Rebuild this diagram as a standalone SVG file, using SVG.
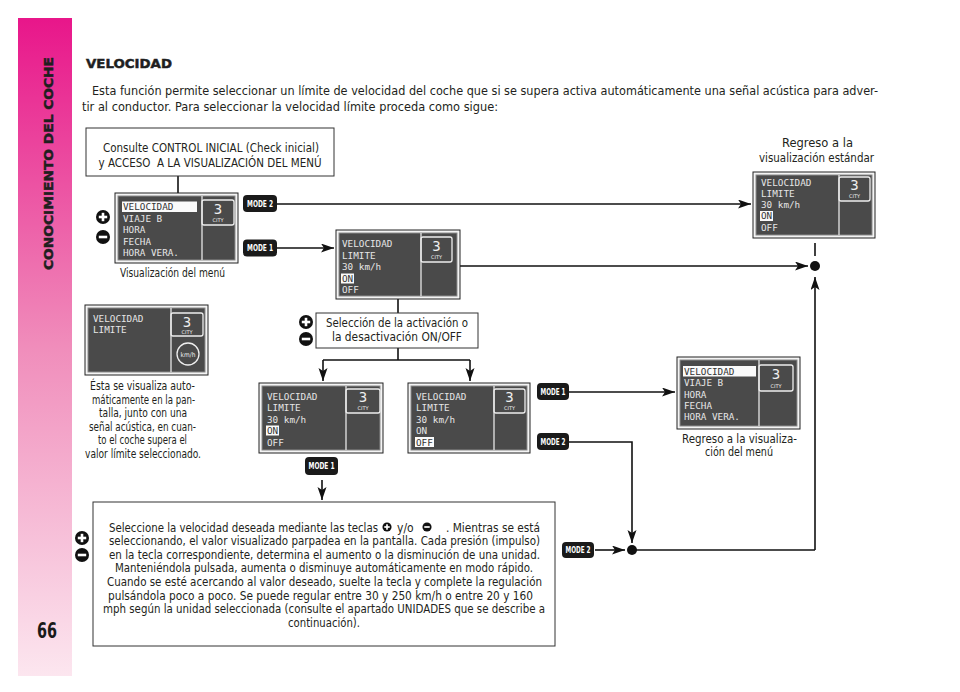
<svg xmlns="http://www.w3.org/2000/svg" width="960" height="692" viewBox="0 0 960 692">
<defs>
<linearGradient id="bar" x1="0" y1="0" x2="0" y2="1">
<stop offset="0" stop-color="#e8168a"/>
<stop offset="0.5" stop-color="#f08dbb"/>
<stop offset="1" stop-color="#fce6ef"/>
</linearGradient>
<marker id="arr" markerUnits="userSpaceOnUse" markerWidth="14" markerHeight="10" refX="13" refY="4.5" orient="auto"><path d="M0,0 L13,4.5 L0,9 L3,4.5 z" fill="#111"/></marker>
<g id="plus"><circle r="7" fill="#111"/><rect x="-4.2" y="-1.3" width="8.4" height="2.6" fill="#fff"/><rect x="-1.3" y="-4.2" width="2.6" height="8.4" fill="#fff"/></g>
<g id="minus"><circle r="7" fill="#111"/><rect x="-4.2" y="-1.3" width="8.4" height="2.6" fill="#fff"/></g>
</defs>
<style>
.t{font-family:"Liberation Sans Narrow","DejaVu Sans Condensed","DejaVu Sans",sans-serif;font-stretch:condensed;fill:#231f20;font-size:12.5px}
.c{text-anchor:middle}
.frame{fill:#f4f4f4;stroke:#222;stroke-width:1}
.scr{fill:#4a4a4a;stroke:#8a8a8a;stroke-width:1}
.div{stroke:#e6e6e6;stroke-width:1.3}
.city{fill:none;stroke:#eee;stroke-width:1.3}
.d{font-family:"DejaVu Sans Mono","Liberation Mono",monospace;font-size:9.3px;fill:#e6e6e6}
.dh{fill:#fafafa}
.dk{fill:#333}
.n3{font-family:"DejaVu Sans Mono",monospace;font-size:14px;fill:#eee;text-anchor:middle}
.cy{font-family:"DejaVu Sans",sans-serif;font-size:5px;fill:#eee;text-anchor:middle}
.badge{fill:#1a1a1a}
.bt{font-family:"DejaVu Sans Condensed","DejaVu Sans",sans-serif;font-stretch:condensed;font-weight:bold;font-size:8.5px;fill:#fff;text-anchor:middle}
.box{fill:#fff;stroke:#333;stroke-width:1}
.ln{fill:none;stroke:#111;stroke-width:1.6}
.ar{marker-end:url(#arr)}
.heavy{font-family:"DejaVu Sans",sans-serif;font-weight:bold;fill:#1f1f1f;stroke:#1f1f1f;stroke-width:0.5}
</style>
<rect width="960" height="692" fill="#fff"/>

<g id="sidebar">
<rect x="18" y="18" width="54" height="658" fill="url(#bar)"/>
<text class="heavy" transform="translate(53,270) rotate(-90)" x="0" y="0" textLength="213" lengthAdjust="spacingAndGlyphs" style="font-size:13px">CONOCIMIENTO DEL COCHE</text>
<text x="47" y="638" class="c" textLength="20" lengthAdjust="spacingAndGlyphs" style="font-family:'DejaVu Sans Condensed','DejaVu Sans',sans-serif;font-stretch:condensed;font-weight:bold;font-size:21px;fill:#1a1a1a">66</text>
</g>

<g id="header">
<text class="heavy" x="86" y="68" textLength="86" lengthAdjust="spacingAndGlyphs" style="font-size:13px">VELOCIDAD</text>
<text class="t" x="92" y="94.5" style="font-size:13px" textLength="786" lengthAdjust="spacingAndGlyphs">Esta función permite seleccionar un límite de velocidad del coche que si se supera activa automáticamente una señal acústica para adver-</text>
<text class="t" x="82" y="110.5" style="font-size:13px" textLength="416" lengthAdjust="spacingAndGlyphs">tir al conductor. Para seleccionar la velocidad límite proceda como sigue:</text>
</g>

<g id="connectors">
<path class="ln" d="M178,176 V193"/>
<path class="ln ar" d="M277,204 H751"/>
<path class="ln ar" d="M277,248 H334"/>
<path class="ln ar" d="M460,266 H808"/>
<path class="ln" d="M815,243 V256"/>
<circle cx="815" cy="266" r="5" fill="#111"/>
<path class="ln ar" d="M815,550 V277"/>
<path class="ln" d="M632,550 H815"/>
<circle cx="632" cy="550" r="5" fill="#111"/>
<path class="ln ar" d="M595,550 H625"/>
<path class="ln ar" d="M569,442 H632 V543"/>
<path class="ln ar" d="M569,392 H675"/>
<path class="ln" d="M398,299 V313"/>
<path class="ln" d="M398,348 V360"/>
<path class="ln" d="M323,360 H470"/>
<path class="ln ar" d="M323,360 V381"/>
<path class="ln ar" d="M470,360 V381"/>
<path class="ln ar" d="M322,480 V500"/>
</g>

<g id="box-consulte">
<rect class="box" x="86" y="128" width="248" height="48"/>
<text class="t c" x="211" y="152" textLength="216" lengthAdjust="spacingAndGlyphs">Consulte CONTROL INICIAL (Check inicial)</text>
<text class="t c" x="210" y="167" textLength="223" lengthAdjust="spacingAndGlyphs">y ACCESO&#160; A LA VISUALIZACIÓN DEL MENÚ</text>
</g>

<g id="disp-menu">
<rect class="frame" x="115" y="193" width="123" height="70"/>
<rect class="scr" x="118" y="196" width="117" height="64"/>
<line class="div" x1="202" y1="196" x2="202" y2="260"/>
<rect class="city" x="202" y="200" width="32" height="25" rx="2"/>
<text class="n3" x="218" y="214">3</text>
<text class="cy" x="218" y="222">CITY</text>
<rect class="dh" x="122" y="201.5" width="75" height="10.5"/>
<text class="d dk" x="123" y="210">VELOCIDAD</text>
<text class="d" x="123" y="221.5">VIAJE B</text>
<text class="d" x="123" y="233">HORA</text>
<text class="d" x="123" y="244.5">FECHA</text>
<text class="d" x="123" y="256">HORA VERA.</text>
<use href="#plus" x="103" y="217"/>
<use href="#minus" x="103" y="237"/>
<text class="t c" x="172.5" y="277" textLength="105" lengthAdjust="spacingAndGlyphs">Visualización del menú</text>
</g>

<g id="mode2-top"><rect class="badge" x="243" y="195" width="34" height="17" rx="4"/><text class="bt" x="260" y="206.5" textLength="26" lengthAdjust="spacingAndGlyphs">MODE 2</text></g>
<g id="mode1-top"><rect class="badge" x="243" y="239.5" width="34" height="17" rx="4"/><text class="bt" x="260" y="251" textLength="26" lengthAdjust="spacingAndGlyphs">MODE 1</text></g>

<g id="disp-limite">
<rect class="frame" x="336" y="230" width="124" height="69"/>
<rect class="scr" x="339" y="233" width="118" height="63"/>
<line class="div" x1="421" y1="233" x2="421" y2="296"/>
<rect class="city" x="421" y="237" width="31" height="25" rx="2"/>
<text class="n3" x="436.5" y="251">3</text>
<text class="cy" x="436.5" y="259">CITY</text>
<text class="d" x="342" y="247">VELOCIDAD</text>
<text class="d" x="342" y="258.5">LIMITE</text>
<text class="d" x="342" y="270">30 km/h</text>
<rect class="dh" x="341" y="273.5" width="13" height="10"/>
<text class="d dk" x="342" y="281.5">ON</text>
<text class="d" x="342" y="293">OFF</text>
</g>

<g id="disp-estandar">
<text class="t c" x="817.5" y="147" textLength="71" lengthAdjust="spacingAndGlyphs">Regreso a la</text>
<text class="t c" x="816.5" y="162" textLength="115" lengthAdjust="spacingAndGlyphs">visualización estándar</text>
<rect class="frame" x="753" y="172" width="122" height="66"/>
<rect class="scr" x="756" y="175" width="116" height="60"/>
<line class="div" x1="839" y1="175" x2="839" y2="235"/>
<rect class="city" x="839" y="177" width="31" height="24" rx="2"/>
<text class="n3" x="854.5" y="190">3</text>
<text class="cy" x="854.5" y="198">CITY</text>
<text class="d" x="761" y="186">VELOCIDAD</text>
<text class="d" x="761" y="197">LIMITE</text>
<text class="d" x="761" y="208">30 km/h</text>
<rect class="dh" x="760" y="211" width="13" height="10"/>
<text class="d dk" x="761" y="219">ON</text>
<text class="d" x="761" y="230.5">OFF</text>
</g>

<g id="disp-alerta">
<rect class="frame" x="85" y="305" width="123" height="70"/>
<rect class="scr" x="88" y="308" width="117" height="64"/>
<line class="div" x1="171" y1="308" x2="171" y2="372"/>
<rect class="city" x="171" y="313" width="32" height="23" rx="2"/>
<text class="n3" x="187" y="327">3</text>
<text class="cy" x="187" y="334">CITY</text>
<circle cx="188" cy="354" r="11" fill="none" stroke="#eee" stroke-width="1.3"/>
<text x="188" y="356.5" text-anchor="middle" style="font-family:'DejaVu Sans Condensed','DejaVu Sans',sans-serif;font-stretch:condensed;font-size:6.5px;fill:#eee">km/h</text>
<text class="d" x="93" y="321.5">VELOCIDAD</text>
<text class="d" x="93" y="333">LIMITE</text>
<text class="t c" x="142.5" y="390" textLength="105" lengthAdjust="spacingAndGlyphs">Ésta se visualiza auto-</text>
<text class="t c" x="143.5" y="403.6" textLength="103" lengthAdjust="spacingAndGlyphs">máticamente en la pan-</text>
<text class="t c" x="143" y="417.2" textLength="88" lengthAdjust="spacingAndGlyphs">talla, junto con una</text>
<text class="t c" x="142.5" y="430.8" textLength="107" lengthAdjust="spacingAndGlyphs">señal acústica, en cuan-</text>
<text class="t c" x="142.5" y="444.4" textLength="89" lengthAdjust="spacingAndGlyphs">to el coche supera el</text>
<text class="t c" x="143" y="458" textLength="116" lengthAdjust="spacingAndGlyphs">valor límite seleccionado.</text>
</g>

<g id="box-seleccion">
<rect class="box" x="316" y="313" width="162" height="35"/>
<text class="t c" x="397" y="327" textLength="142" lengthAdjust="spacingAndGlyphs">Selección de la activación o</text>
<text class="t c" x="397" y="341" textLength="130" lengthAdjust="spacingAndGlyphs">la desactivación ON/OFF</text>
<use href="#plus" x="306" y="322"/>
<use href="#minus" x="306" y="339"/>
</g>

<g id="disp-on">
<rect class="frame" x="259" y="383" width="124" height="70"/>
<rect class="scr" x="262" y="386" width="118" height="64"/>
<line class="div" x1="346" y1="386" x2="346" y2="450"/>
<rect class="city" x="346" y="389" width="34" height="24" rx="2"/>
<text class="n3" x="363" y="402">3</text>
<text class="cy" x="363" y="410">CITY</text>
<text class="d" x="267" y="399.5">VELOCIDAD</text>
<text class="d" x="267" y="411">LIMITE</text>
<text class="d" x="267" y="422.5">30 km/h</text>
<rect class="dh" x="266" y="425.5" width="13" height="10"/>
<text class="d dk" x="267" y="434">ON</text>
<text class="d" x="267" y="445.5">OFF</text>
</g>

<g id="disp-off">
<rect class="frame" x="408" y="383" width="122" height="70"/>
<rect class="scr" x="411" y="386" width="116" height="64"/>
<line class="div" x1="494" y1="386" x2="494" y2="450"/>
<rect class="city" x="494" y="389" width="31" height="24" rx="2"/>
<text class="n3" x="509.5" y="402">3</text>
<text class="cy" x="509.5" y="410">CITY</text>
<text class="d" x="416" y="399.5">VELOCIDAD</text>
<text class="d" x="416" y="411">LIMITE</text>
<text class="d" x="416" y="422.5">30 km/h</text>
<text class="d" x="416" y="434">ON</text>
<rect class="dh" x="415" y="437" width="19" height="10"/>
<text class="d dk" x="416" y="445.5">OFF</text>
</g>

<g id="mode1-mid"><rect class="badge" x="305" y="457" width="33" height="18" rx="4"/><text class="bt" x="321.5" y="469" textLength="26" lengthAdjust="spacingAndGlyphs">MODE 1</text></g>
<g id="mode1-right"><rect class="badge" x="537" y="383" width="32" height="17" rx="4"/><text class="bt" x="553" y="394.5" textLength="25" lengthAdjust="spacingAndGlyphs">MODE 1</text></g>
<g id="mode2-right"><rect class="badge" x="537" y="433" width="32" height="17" rx="4"/><text class="bt" x="553" y="444.5" textLength="25" lengthAdjust="spacingAndGlyphs">MODE 2</text></g>
<g id="mode2-bottom"><rect class="badge" x="562" y="542" width="32" height="16" rx="4"/><text class="bt" x="578" y="553" textLength="25" lengthAdjust="spacingAndGlyphs">MODE 2</text></g>

<g id="disp-menu-return">
<rect class="frame" x="677" y="357" width="123" height="72"/>
<rect class="scr" x="680" y="360" width="117" height="66"/>
<line class="div" x1="759" y1="360" x2="759" y2="426"/>
<rect class="city" x="759" y="365" width="34" height="26" rx="2"/>
<text class="n3" x="776" y="379">3</text>
<text class="cy" x="776" y="388">CITY</text>
<rect class="dh" x="683" y="366" width="73" height="10.5"/>
<text class="d dk" x="684" y="374.5">VELOCIDAD</text>
<text class="d" x="684" y="386">VIAJE B</text>
<text class="d" x="684" y="397.5">HORA</text>
<text class="d" x="684" y="408.5">FECHA</text>
<text class="d" x="684" y="419.5">HORA VERA.</text>
<text class="t c" x="739.5" y="442.5" style="font-size:12px" textLength="115" lengthAdjust="spacingAndGlyphs">Regreso a la visualiza-</text>
<text class="t c" x="739" y="456" style="font-size:12px" textLength="68" lengthAdjust="spacingAndGlyphs">ción del menú</text>
</g>

<g id="box-regulacion">
<rect class="box" x="93" y="502" width="462" height="144"/>
<use href="#plus" x="82" y="538"/>
<use href="#minus" x="82" y="555"/>
<text class="t" x="109" y="531.5" style="font-size:12px" textLength="269" lengthAdjust="spacingAndGlyphs">Seleccione la velocidad deseada mediante las teclas</text>
<use href="#plus" transform="translate(387,527) scale(0.65)"/>
<text class="t" x="397" y="531.5" style="font-size:12px">y/o</text>
<use href="#minus" transform="translate(427,527) scale(0.65)"/>
<text class="t" x="446" y="531.5" style="font-size:12px" textLength="94" lengthAdjust="spacingAndGlyphs">. Mientras se está</text>
<text class="t" x="109" y="545" style="font-size:12px" textLength="431" lengthAdjust="spacingAndGlyphs">seleccionando, el valor visualizado parpadea en la pantalla. Cada presión (impulso)</text>
<text class="t" x="109" y="558.5" style="font-size:12px" textLength="431" lengthAdjust="spacingAndGlyphs">en la tecla correspondiente, determina el aumento o la disminución de una unidad.</text>
<text class="t" x="115" y="572" style="font-size:12px" textLength="418" lengthAdjust="spacingAndGlyphs">Manteniéndola pulsada, aumenta o disminuye automáticamente en modo rápido.</text>
<text class="t" x="107" y="586" style="font-size:12px" textLength="435" lengthAdjust="spacingAndGlyphs">Cuando se esté acercando al valor deseado, suelte la tecla y complete la regulación</text>
<text class="t" x="108" y="599.5" style="font-size:12px" textLength="425" lengthAdjust="spacingAndGlyphs">pulsándola poco a poco. Se puede regular entre 30 y 250 km/h o entre 20 y 160</text>
<text class="t" x="103" y="613" style="font-size:12px" textLength="442" lengthAdjust="spacingAndGlyphs">mph según la unidad seleccionada (consulte el apartado UNIDADES que se describe a</text>
<text class="t" x="288" y="627" style="font-size:12px" textLength="72" lengthAdjust="spacingAndGlyphs">continuación).</text>
</g>
</svg>
